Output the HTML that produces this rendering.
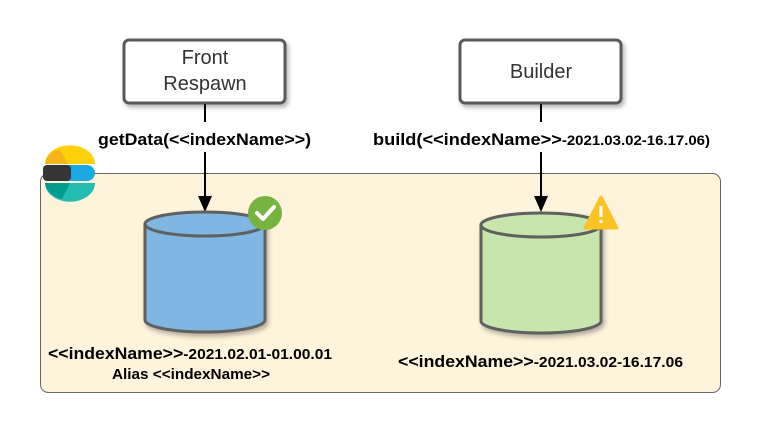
<!DOCTYPE html>
<html><head><style>body{margin:0;background:#fff}svg{display:block}</style></head><body>
<svg width="760" height="433" viewBox="0 0 760 433" xmlns="http://www.w3.org/2000/svg" font-family="Liberation Sans, sans-serif">
<defs>
<filter id="sh" x="-20%" y="-20%" width="150%" height="150%"><feDropShadow dx="2" dy="3" stdDeviation="2.5" flood-color="#000" flood-opacity="0.3"/></filter>
</defs>
<rect x="40.5" y="173.5" width="680" height="219" rx="8" fill="#fef4dc" stroke="#666" stroke-width="1"/>
<rect x="124" y="40" width="161" height="63" rx="5" fill="#fff" stroke="#5a5a5a" stroke-width="3" filter="url(#sh)"/>
<text x="205" y="64" font-size="20" text-anchor="middle" fill="#333">Front</text>
<text x="205" y="90" font-size="20" text-anchor="middle" fill="#333">Respawn</text>
<rect x="460" y="40" width="161" height="63" rx="5" fill="#fff" stroke="#5a5a5a" stroke-width="3" filter="url(#sh)"/>
<text x="541" y="78" font-size="20" text-anchor="middle" fill="#333">Builder</text>
<line x1="205" y1="104" x2="205" y2="122" stroke="#000" stroke-width="2"/>
<line x1="205" y1="152" x2="205" y2="198" stroke="#000" stroke-width="2"/>
<polygon points="198,196 212,196 205,212" fill="#000"/>
<text x="98" y="145" font-size="17" font-weight="bold" textLength="213" lengthAdjust="spacingAndGlyphs">getData(&lt;&lt;indexName&gt;&gt;)</text>
<line x1="541" y1="104" x2="541" y2="122" stroke="#000" stroke-width="2"/>
<line x1="541" y1="152" x2="541" y2="198" stroke="#000" stroke-width="2"/>
<polygon points="534,196 548,196 541,212" fill="#000"/>
<text x="373" y="145" font-size="17" font-weight="bold" textLength="337" lengthAdjust="spacingAndGlyphs">build(&lt;&lt;indexName&gt;&gt;<tspan font-size="14">-2021.03.02-16.17.06)</tspan></text>
<g filter="url(#sh)">
<path d="M145,224 L145,320 A60,12 0 0 0 265,320 L265,224 Z" fill="#7fb7e2" stroke="#606060" stroke-width="3"/>
<ellipse cx="205" cy="224" rx="60" ry="12" fill="#7fb7e2" stroke="#606060" stroke-width="3"/>
<path d="M481,225 L481,321 A60,12 0 0 0 601,321 L601,225 Z" fill="#c7e6ad" stroke="#606060" stroke-width="3"/>
<ellipse cx="541" cy="225" rx="60" ry="12" fill="#c7e6ad" stroke="#606060" stroke-width="3"/>
</g>
<circle cx="265" cy="213" r="17" fill="#77b33f"/>
<polyline points="257,213 263,219 274,207" fill="none" stroke="#fff" stroke-width="4" stroke-linecap="round" stroke-linejoin="round"/>
<polygon points="601,197 617,228 585,228" fill="#fbc226" stroke="#fbc226" stroke-width="3" stroke-linejoin="round"/>
<rect x="599.5" y="206" width="3" height="11" fill="#fff"/>
<rect x="599.5" y="220" width="3" height="3" fill="#fff"/>
<text x="48" y="359" font-size="17" font-weight="bold" textLength="284" lengthAdjust="spacingAndGlyphs">&lt;&lt;indexName&gt;&gt;<tspan font-size="15">-2021.02.01-01.00.01</tspan></text>
<text x="112" y="379" font-size="15" font-weight="bold" textLength="158" lengthAdjust="spacingAndGlyphs">Alias &lt;&lt;indexName&gt;&gt;</text>
<text x="398" y="367" font-size="17" font-weight="bold" textLength="285" lengthAdjust="spacingAndGlyphs">&lt;&lt;indexName&gt;&gt;<tspan font-size="15">-2021.03.02-16.17.06</tspan></text>
<path d="M45,164 A24,18 0 0 1 95,164 Z" fill="#fed10a"/>
<path d="M45,164 A24,18 0 0 1 60,149 L68,164 Z" fill="#f4b41a"/>
<rect x="43" y="165" width="52" height="16" rx="8" fill="#1ba9e1"/>
<rect x="43" y="165" width="28" height="16" rx="4" fill="#353535"/>
<path d="M45,183 A24,18 0 0 0 95,183 Z" fill="#24bbb1"/>
<path d="M45,183 A24,18 0 0 0 62,199 L70,183 Z" fill="#019b8f"/>
</svg>
</body></html>
